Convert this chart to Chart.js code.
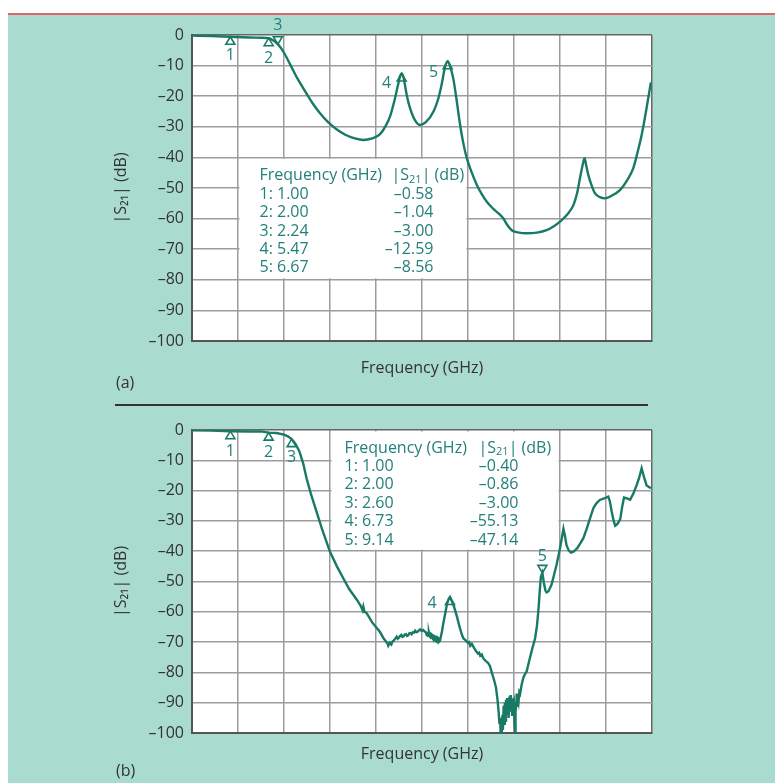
<!DOCTYPE html>
<html><head><meta charset="utf-8">
<script src="https://cdn.jsdelivr.net/npm/chart.js@4"></script>
<style>
html,body{margin:0;padding:0;background:#fff;width:775px;height:783px;overflow:hidden;font-family:"Open Sans",sans-serif;}
#bg{position:absolute;left:8px;top:15px;right:0;bottom:0;background:#a9dccf;}
#red{position:absolute;left:8px;top:13px;right:0;height:2px;background:#e0646e;}
canvas{position:absolute;left:0;}
#c1{top:0}
#c2{top:400px}
.lbl{position:absolute;left:116px;font-size:16px;line-height:20px;color:#333;}
#sep{position:absolute;left:115px;top:404px;width:533px;height:1.5px;background:#333}
</style></head>
<body>
<div id="bg"></div><div id="red"></div>
<canvas id="c1" width="775" height="400"></canvas>
<canvas id="c2" width="775" height="383"></canvas>
<div id="sep"></div>
<div class="lbl" style="top:372px">(a)</div>
<div class="lbl" style="top:760px">(b)</div>
<script>
// ---------- data ----------
const xGridTicks = [0, 1.2, 2.4, 3.6, 4.8, 6.0, 7.2, 8.4, 9.6, 10.8, 12.0];
const yTicks = [0, -10, -20, -30, -40, -50, -60, -70, -80, -90, -100];

// (a) measured |S21|
const freqA = [0,0.5,1.0,1.5,1.8,2.0,2.1,2.24,2.4,2.56,2.75,2.99,3.15,3.34,3.55,3.77,4.0,4.25,4.47,4.7,4.9,5.05,5.17,5.28,5.38,5.43,5.47,5.52,5.6,5.69,5.8,5.95,6.1,6.3,6.42,6.51,6.6,6.67,6.74,6.82,6.9,6.99,7.08,7.17,7.3,7.43,7.56,7.69,7.86,8.04,8.12,8.22,8.34,8.5,8.73,9.0,9.25,9.45,9.6,9.8,9.95,10.05,10.12,10.2,10.24,10.29,10.34,10.42,10.51,10.64,10.77,10.95,11.17,11.35,11.51,11.62,11.73,11.85,11.97];
const s21A  = [-0.2,-0.35,-0.58,-0.8,-0.9,-1.04,-1.6,-3.0,-5.8,-9.6,-14.2,-19.2,-22.4,-25.6,-28.5,-30.8,-32.6,-33.8,-34.3,-33.8,-32.5,-29.8,-26.5,-21.5,-16,-13.4,-12.59,-14,-19.5,-24,-27.5,-29.4,-28.5,-25,-21,-16.3,-10.5,-8.56,-10.5,-14.5,-21,-29,-35.5,-40.3,-45,-49,-52,-54.5,-56.8,-58.8,-59.9,-62,-63.8,-64.5,-64.8,-64.6,-63.8,-62.4,-61,-58.5,-55.6,-51.5,-46.8,-42,-40.3,-43,-45.8,-49,-51.7,-53,-53.4,-52.5,-50.6,-47.5,-43.6,-38.5,-32.7,-24.5,-15.5];
const markerIdA   = [1, 2, 3, 4, 5];
const markerFreqA = [1.00, 2.00, 2.24, 5.47, 6.67];
const markerDbA   = [-0.58, -1.04, -3.00, -12.59, -8.56];

// (b) measured |S21|
const freqB = [0,0.5,1.0,1.5,1.8,2.0,2.2,2.4,2.5,2.6,2.7,2.8,2.9,2.99,3.1,3.25,3.4,3.6,3.78,3.95,4.1,4.3,4.4,4.45,4.47,4.5,4.56,4.7,4.9,5.0,5.06,5.1,5.12,5.16,5.2,5.23,5.26,5.3,5.34,5.37,5.4,5.43,5.46,5.49,5.52,5.55,5.58,5.61,5.64,5.67,5.7,5.73,5.76,5.79,5.82,5.85,5.88,5.92,5.95,5.99,6.03,6.07,6.1,6.12,6.14,6.16,6.18,6.2,6.22,6.24,6.26,6.28,6.3,6.32,6.34,6.36,6.38,6.4,6.42,6.44,6.47,6.52,6.56,6.6,6.65,6.7,6.73,6.78,6.84,6.91,6.98,7.04,7.08,7.12,7.15,7.2,7.23,7.26,7.3,7.34,7.4,7.46,7.49,7.52,7.56,7.6,7.66,7.72,7.77,7.82,7.88,7.93,7.97,8.0,8.02,8.04,8.05,8.07,8.08,8.1,8.11,8.13,8.14,8.16,8.17,8.19,8.2,8.22,8.23,8.25,8.26,8.28,8.29,8.31,8.32,8.34,8.35,8.37,8.38,8.4,8.41,8.43,8.44,8.46,8.47,8.49,8.5,8.52,8.54,8.56,8.6,8.65,8.7,8.73,8.8,8.88,8.95,9.0,9.04,9.07,9.1,9.14,9.18,9.22,9.25,9.3,9.38,9.45,9.51,9.56,9.6,9.65,9.69,9.73,9.77,9.83,9.89,9.95,10.05,10.14,10.21,10.3,10.4,10.47,10.55,10.64,10.75,10.86,10.9,10.95,11.0,11.04,11.1,11.17,11.22,11.27,11.33,11.43,11.52,11.6,11.66,11.73,11.79,11.86,11.97];
const s21B  = [-0.1,-0.2,-0.4,-0.5,-0.45,-0.86,-1.0,-1.5,-2.1,-3.0,-4.6,-7.0,-11,-16,-21,-27,-33,-40.2,-45,-49,-52.5,-56,-58,-59.5,-58.3,-60,-60.5,-63.5,-66.6,-68.8,-69.8,-70.5,-71.2,-70.2,-70.8,-69.8,-69.5,-68.9,-68.2,-68.9,-68.5,-67.9,-67.6,-68.3,-68.1,-67.5,-67.4,-68.0,-67.8,-67.1,-67,-67.4,-66.8,-66.9,-66.2,-66.7,-66.6,-66.1,-65.8,-66.3,-66,-66.5,-66.8,-67.6,-67.8,-67.0,-66.9,-68.1,-68.4,-67.3,-67.5,-68.8,-69.2,-68.0,-68.2,-69.6,-69.8,-68.4,-68.6,-69.9,-69.5,-66.5,-63.5,-61,-57.5,-55.6,-55.13,-56.5,-58.5,-61.5,-65,-67.5,-68.8,-69.2,-69.6,-70.2,-70.0,-71.2,-70.6,-71.5,-72.8,-73.8,-73.5,-74.5,-74.1,-75.4,-76.2,-76.8,-77.8,-80,-82.5,-85,-89,-93,-97,-95,-100,-97,-100,-94,-99,-91,-97,-90,-96,-89,-94,-88.5,-93,-90,-95,-88,-92,-87.5,-93,-89,-94,-88.5,-91,-90,-96,-99.5,-93,-90,-87,-91,-88,-89.5,-86.5,-87,-84,-81.5,-80.3,-79.7,-76,-72,-68.8,-64.5,-59,-53.4,-48.5,-47.14,-50.5,-53,-53.6,-53.2,-51,-47.5,-44.5,-41.5,-39,-35.5,-32.6,-35,-38,-39.8,-40.5,-40.2,-39,-37.2,-35.7,-32.5,-28.5,-25.8,-24.2,-23.1,-22.6,-22,-23.5,-27,-30,-31.6,-31,-29.5,-25.5,-22.3,-22.5,-23,-20.8,-18.2,-16,-12.6,-15.5,-18.3,-19.2];
const markerIdB   = [1, 2, 3, 4, 5];
const markerFreqB = [1.00, 2.00, 2.60, 6.73, 9.14];
const markerDbB   = [-0.40, -0.86, -3.00, -55.13, -47.14];

// ---------- styles ----------
const LINE = '#187a64';
const TEAL = '#23807a';
const FONT = '"Open Sans", sans-serif';
Chart.defaults.font.family = FONT;

// marker glyph placement (style only): triangle direction, label offset
const markerStyleA = [
  {dir:'up', dx:0, dy:19}, {dir:'up', dx:0, dy:20}, {dir:'down', dx:0, dy:-19},
  {dir:'up', dx:-15, dy:10}, {dir:'up', dx:-14, dy:11}
];
const markerStyleB = [
  {dir:'up', dx:0, dy:20}, {dir:'up', dx:0, dy:19.5}, {dir:'up', dx:0, dy:18},
  {dir:'up', dx:-18, dy:6}, {dir:'down', dx:0, dy:-16}
];

function fmtTick(v){ return v < 0 ? '\u2013' + Math.abs(v) : String(v); }
function fmtDb(v){ return '\u2013' + Math.abs(v).toFixed(2); }

function decoPlugin(cfg){
  return {
    id: 'deco',
    beforeDraw(chart){
      const {ctx, chartArea:a} = chart;
      ctx.save(); ctx.fillStyle = '#fff';
      ctx.fillRect(a.left, a.top, a.right - a.left, a.bottom - a.top);
      ctx.restore();
    },
    beforeDatasetsDraw(chart){
      const {ctx} = chart; const xs = chart.scales.x, ys = chart.scales.y;
      const l = xs.getPixelForValue(cfg.box[0]) + 1.5, r = xs.getPixelForValue(cfg.box[1]) - 1.5;
      const t = ys.getPixelForValue(cfg.box[2]) + 1.5, b = ys.getPixelForValue(cfg.box[3]) - 1.5;
      ctx.save();
      ctx.fillStyle = '#fff'; ctx.fillRect(l, t, r - l, b - t);
      ctx.fillStyle = TEAL; ctx.textBaseline = 'middle';
      ctx.font = '16px ' + FONT; ctx.textAlign = 'left';
      const x0 = l + cfg.textDx, y0 = t + cfg.textDy;
      ctx.fillText('Frequency (GHz)', x0, y0);
      let hx = l + cfg.headDx;
      ctx.fillText('|S', hx, y0); hx += ctx.measureText('|S').width;
      ctx.font = '11px ' + FONT; ctx.fillText('21', hx, y0 + 4); hx += ctx.measureText('21').width;
      ctx.font = '16px ' + FONT; ctx.fillText('| (dB)', hx, y0);
      for (let i = 0; i < cfg.ids.length; i++) {
        const y = y0 + (i + 1) * 18.4;
        ctx.textAlign = 'left';
        ctx.fillText(cfg.ids[i] + ': ' + cfg.freqs[i].toFixed(2), x0, y);
        ctx.textAlign = 'right';
        ctx.fillText(fmtDb(cfg.dbs[i]), l + cfg.valDx, y);
      }
      ctx.restore();
    },
    afterDatasetsDraw(chart){
      const {ctx} = chart; const xs = chart.scales.x, ys = chart.scales.y;
      ctx.save();
      ctx.strokeStyle = LINE; ctx.lineWidth = 1.6; ctx.lineJoin = 'miter';
      ctx.fillStyle = TEAL; ctx.font = '16px ' + FONT;
      ctx.textAlign = 'center'; ctx.textBaseline = 'middle';
      for (let i = 0; i < cfg.ids.length; i++) {
        const st = cfg.styles[i];
        const x = xs.getPixelForValue(cfg.freqs[i]);
        const y = ys.getPixelForValue(cfg.dbs[i]);
        const h = 7.5, w = 4.5, s = st.dir === 'up' ? 1 : -1;
        ctx.beginPath();
        ctx.moveTo(x, y); ctx.lineTo(x - w, y + s * h); ctx.lineTo(x + w, y + s * h); ctx.closePath();
        ctx.stroke();
        ctx.fillText(String(cfg.ids[i]), x + st.dx, y + st.dy);
      }
      ctx.restore();
    }
  };
}

function makeChart(id, freq, s21, cfg, xAxisH, titlePadBottom, padTop){
  const pts = freq.map((f, i) => ({x: f, y: s21[i]}));
  const ds = { data: pts, borderColor: LINE, borderWidth: 2.4, pointRadius: 0, fill: false };
  if (cfg.smooth) ds.cubicInterpolationMode = 'monotone'; else ds.tension = 0;
  return new Chart(document.getElementById(id), {
    type: 'line',
    data: { datasets: [ds] },
    options: {
      responsive: false, animation: false, devicePixelRatio: 1,
      layout: { padding: { top: padTop, left: 0, right: 123, bottom: 0 } },
      plugins: { legend: { display: false }, tooltip: { enabled: false } },
      scales: {
        x: {
          type: 'linear', min: 0, max: 12,
          afterBuildTicks: s => { s.ticks = xGridTicks.map(v => ({value: v})); },
          afterFit: s => { s.height = xAxisH; },
          ticks: { display: false },
          grid: { drawTicks: false, lineWidth: 1.5,
            color: c => (c.tick && c.tick.value === 12) ? '#666' : '#9c9c9c' },
          border: { display: true, color: '#555', width: 2 },
          title: { display: true, text: 'Frequency (GHz)', color: '#333',
            font: { size: 16 }, padding: { top: 0, bottom: titlePadBottom } }
        },
        y: {
          type: 'linear', min: -100, max: 0,
          afterBuildTicks: s => { s.ticks = yTicks.map(v => ({value: v})); },
          afterFit: s => { s.width = 192; },
          ticks: { callback: v => fmtTick(v), color: '#333', font: { size: 16 }, padding: 8 },
          grid: { drawTicks: false, lineWidth: 1.5,
            color: c => (c.tick && c.tick.value === 0) ? '#666' : '#9c9c9c' },
          border: { display: true, color: '#555', width: 2 },
          title: { display: true, text: '|S\u2082\u2081| (dB)', color: '#333',
            font: { size: 16 }, padding: { top: 112, bottom: 0 } }
        }
      }
    },
    plugins: [decoPlugin(cfg)]
  });
}

makeChart('c1', freqA, s21A, {
  box: [1.2, 7.2, -40, -80], textDx: 20, textDy: 17, headDx: 152, valDx: 194, smooth: true,
  ids: markerIdA, freqs: markerFreqA, dbs: markerDbA, styles: markerStyleA
}, 59, 22, 35);

makeChart('c2', freqB, s21B, {
  box: [3.6, 9.6, 0, -40], textDx: 13, textDy: 16.5, headDx: 147, valDx: 187, smooth: false,
  ids: markerIdB, freqs: markerFreqB, dbs: markerDbB, styles: markerStyleB
}, 50, 19, 30);
</script>
</body></html>
